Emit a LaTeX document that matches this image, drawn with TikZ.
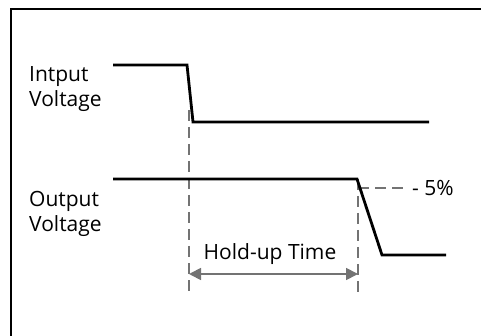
\documentclass[tikz,border=0pt]{standalone}
\usepackage{fontspec}
\setmainfont{Open Sans}
\usetikzlibrary{arrows.meta}

\begin{document}
\begin{tikzpicture}[x=1pt,y=-1pt,
    signal/.style={line width=2.8pt, line join=miter},
    guide/.style={gray!90!black, line width=1.4pt, dash pattern=on 11pt off 6pt},
    label/.style={align=left, inner sep=0pt, font=\fontsize{21}{25}\selectfont}]
  \useasboundingbox (0,0) rectangle (481,336);
  % frame
  \draw[line width=1.5pt] (11,336) -- (11,9) -- (481,9);

  % labels
  \node[label, anchor=west] (inlabel) at (29,89) {Intput\\Voltage};
  \node[label, anchor=west] (outlabel) at (29,214) {Output\\Voltage};

  % guides
  \coordinate (fall) at (189,110);
  \coordinate (drop) at (358,179);
  \coordinate (fallend) at (189,296);
  \coordinate (dropend) at (358,296);
  \draw[guide] (fall) -- (fallend);
  \draw[guide] (drop) -- (dropend);
  \draw[guide] (358,188) -- (404,188);
  \node[label, anchor=base west] (pct) at (412,196) {- 5\%};

  % hold-up time
  \coordinate (hstart) at (189,274);
  \coordinate (hend) at (358,274);
  \draw[gray!90!black, line width=1.8pt, {Triangle[length=12pt,width=12pt]}-{Triangle[length=12pt,width=12pt]}] (hstart) -- (hend);
  \node[label, anchor=base] (hold) at (270,260) {Hold-up Time};

  % signals
  \draw[signal] (113,65) -- (187,65) -- (193,122) -- (429,122);
  \draw[signal] (113,179) -- (357,179) -- (382,255) -- (446,255);
\end{tikzpicture}
\end{document}
